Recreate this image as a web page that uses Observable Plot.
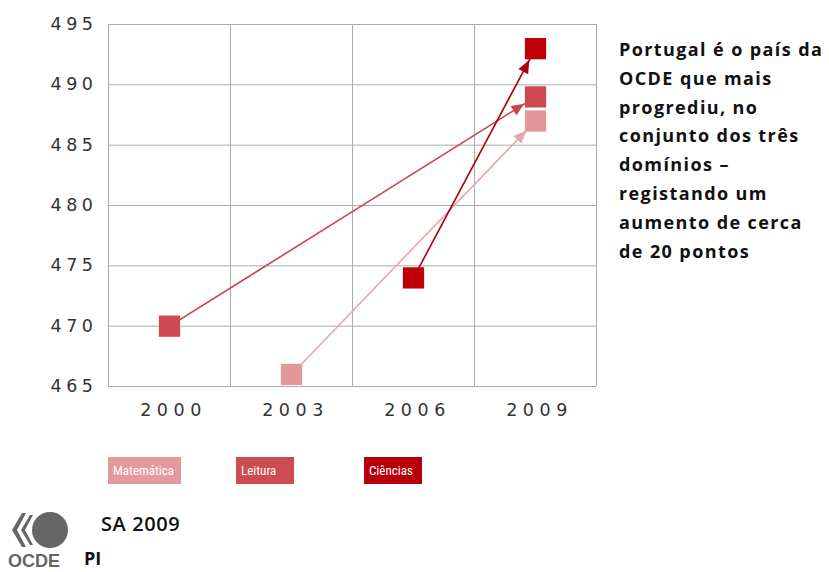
<!DOCTYPE html>
<html><head><meta charset="utf-8">
<script src="https://cdn.jsdelivr.net/npm/d3@7"></script>
<script src="https://cdn.jsdelivr.net/npm/@observablehq/plot@0.6"></script>
<style>
body{margin:0;background:#fff;width:829px;height:572px;overflow:hidden;position:relative;font-family:"DejaVu Sans",sans-serif}
#chart{position:absolute;left:0;top:0}
#chart g[aria-label="x-axis tick label"] text{letter-spacing:5.5px}
#chart g[aria-label="y-axis tick label"] text{letter-spacing:4.5px}
#note{position:absolute;left:619px;top:35px;font-family:"Open Sans",sans-serif;font-weight:bold;font-size:18px;line-height:28.8px;color:#111;letter-spacing:1.4px;white-space:nowrap}
.lg{position:absolute;top:457px;height:27px;line-height:27px;color:#fff;font-family:"Liberation Sans Narrow","Roboto Condensed",sans-serif;font-size:13px;padding-left:5px;box-sizing:border-box}
#brand{position:absolute;left:0;top:503px}
#sa{position:absolute;left:101px;top:510px;font-family:"Open Sans",sans-serif;font-weight:600;font-size:20px;letter-spacing:0.6px;color:#111}
#pi{position:absolute;left:84px;top:546px;font-family:"Open Sans",sans-serif;font-weight:bold;font-size:18px;color:#111}
</style></head>
<body>
<div id="chart"></div>
<div id="note"></div>
<div id="legend"></div>
<svg id="brand" width="80" height="67" viewBox="0 0 80 67">
  <circle cx="50" cy="27" r="18" fill="#666"/>
  <path d="M22 10 L12 27 L22 44 L26 44 L17 27 L26 10Z M30 12 L21 27 L30 42 L33 42 L25 27 L33 12Z" fill="#666"/>
  <text x="8" y="64" font-family="Liberation Sans Narrow, sans-serif" font-weight="bold" font-size="18" fill="#666">OCDE</text>
</svg>
<div id="sa">SA 2009</div>
<div id="pi">PI</div>
<script>
const years = [2000, 2003, 2006, 2009];
const domains = ["Matemática", "Leitura", "Ciências"];
const startYears = [2003, 2000, 2006];
const startScores = [466, 470, 474];
const endYears = [2009, 2009, 2009];
const endScores = [487, 489, 493];
const markerColors = ["#e3979b", "#cd4a50", "#c00008"];
const arrowColors = ["#e8a7aa", "#c9464c", "#a8000c"];
const legendColors = ["#e5999c", "#cd4b51", "#b8000a"];
const yTicks = [465, 470, 475, 480, 485, 490, 495];
const noteLines = ["Portugal é o país da", "OCDE que mais", "progrediu, no", "conjunto dos três", "domínios –", "registando um", "aumento de cerca", "de 20 pontos"];

const arrows = domains.map((d, i) => ({domain: d, x1: startYears[i], y1: startScores[i], x2: endYears[i], y2: endScores[i], color: arrowColors[i]}));
const points = domains.flatMap((d, i) => [
  {domain: d, year: startYears[i], score: startScores[i], color: markerColors[i]},
  {domain: d, year: endYears[i], score: endScores[i], color: markerColors[i]}
]);
const bounds = [...years.map(y => y - 1.5), years[years.length - 1] + 1.5];

function triMarker(color) {
  const ns = "http://www.w3.org/2000/svg";
  const m = document.createElementNS(ns, "marker");
  m.setAttribute("viewBox", "-28 -8 28 16");
  m.setAttribute("markerWidth", "28");
  m.setAttribute("markerHeight", "16");
  m.setAttribute("refX", "0");
  m.setAttribute("refY", "0");
  m.setAttribute("orient", "auto");
  m.setAttribute("markerUnits", "userSpaceOnUse");
  const p = document.createElementNS(ns, "path");
  p.setAttribute("d", "M-26,-5.5L-13,0L-26,5.5Z");
  p.setAttribute("fill", color);
  p.setAttribute("stroke", "none");
  m.appendChild(p);
  return m;
}

const chart = Plot.plot({
  width: 829,
  height: 440,
  marginLeft: 108,
  marginRight: 233,
  marginTop: 24,
  marginBottom: 54,
  style: {fontSize: "17.5px", fontFamily: "DejaVu Sans, sans-serif", color: "#333", background: "transparent"},
  x: {domain: [bounds[0], bounds[bounds.length - 1]], ticks: years, tickFormat: d => String(d), tickSize: 0, tickPadding: 17, label: null},
  y: {domain: [yTicks[0], yTicks[yTicks.length - 1]], ticks: yTicks, tickSize: 0, tickPadding: 11, label: null},
  color: {type: "identity"},
  marks: [
    Plot.ruleY(yTicks, {stroke: "#ababab", strokeWidth: 1}),
    Plot.ruleX(bounds, {stroke: "#ababab", strokeWidth: 1}),
    Plot.axisX({ticks: years, tickFormat: d => String(d), tickSize: 0, tickPadding: 17, dx: 4, label: null}),
    Plot.link(arrows, {x1: "x1", y1: "y1", x2: "x2", y2: "y2", stroke: "color", strokeWidth: 1.6, markerEnd: triMarker}),
    Plot.dot(points, {x: "year", y: "score", symbol: "square", r: 12, fill: "color", stroke: "none"})
  ]
});
document.getElementById("chart").appendChild(chart);

document.getElementById("note").innerHTML = noteLines.map(l => `<div>${l}</div>`).join("");

const legendLeft = [108, 236, 364];
const legendWidth = [73, 58, 58];
document.getElementById("legend").innerHTML = domains.map((d, i) =>
  `<div class="lg" style="left:${legendLeft[i]}px;width:${legendWidth[i]}px;background:${legendColors[i]}">${d}</div>`).join("");
</script>
</body></html>
